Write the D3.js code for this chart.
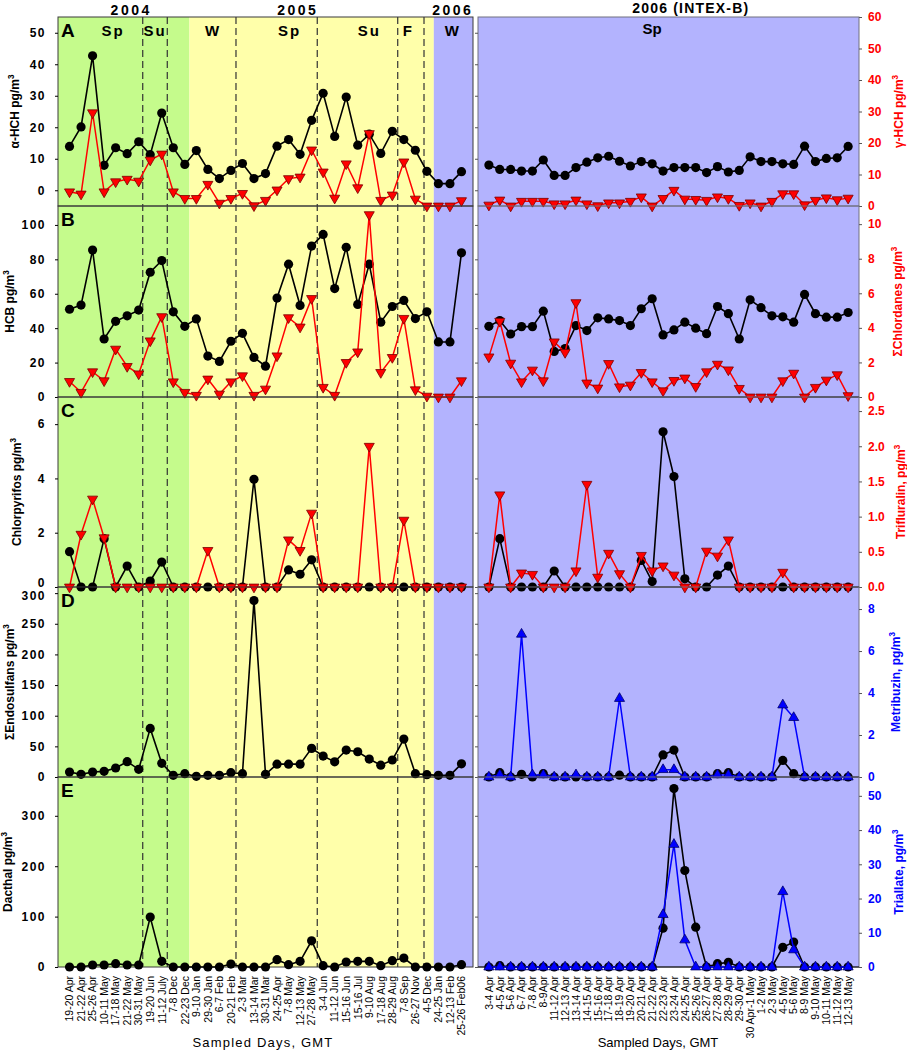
<!DOCTYPE html>
<html><head><meta charset="utf-8">
<script src="https://cdn.jsdelivr.net/npm/d3@7"></script>
<style>body{margin:0;background:#fff}svg{display:block}text{font-family:"Liberation Sans",Arial,sans-serif}</style>
</head><body><svg id="c" width="907" height="1050"></svg>
<script>
// ---------- categories ----------
const leftCats = ["19-20 Apr","21-22 Apr","25-26 Apr","10-11 May","17-18 May","21-22 May","30-31 May","19-20 Jun","11-12 July","7-8 Dec","22-23 Dec","9-10 Jan","29-30 Jan","6-7 Feb","20-21 Feb","2-3 Mar","13-14 Mar","30-31 Mar","24-25 Apr","7-8 May","12-13 May","27-28 May","3-4 Jun","11-12 Jun","15-16 Jun","15-16 Jul","9-10 Aug","17-18 Aug","28-29 Aug","7-8 Sep","26-27 Nov","4-5 Dec","24-25 Jan","12-13 Feb","25-26 Feb06"];
const rightCats = ["3-4 Apr","4-5 Apr","5-6 Apr","6-7 Apr","7-8 Apr","8-9Apr","11-12 Apr","12-13 Apr","13-14 Apr","14-15 Apr","15-16 Apr","17-18 Apr","18-19 Apr","19-20 Apr","20-21 Apr","21-22 Apr","22-23 Apr","23-24 Apr","24-25 Apr","25-26 Apr","26-27 Apr","27-28 Apr","28-29 Apr","29-30 Apr","30 Apr-1 May","1-2 May","2-3 May","4-5 May","5-6 May","8-9 May","9-10 May","10-11 May","11-12 May","12-13 May"];

// ---------- series values ----------
const aHCH_L = [13.9,20.1,42.7,7.9,13.5,11.6,15.4,11.3,24.5,13.5,8.2,12.6,6.6,3.7,6.3,8.5,3.7,5.3,14.0,16.1,11.4,22.2,30.8,17.1,29.6,14.3,17.8,11.7,18.7,16.1,12.7,6.0,2.1,2.1,5.9];
const aHCH_R = [8.0,6.6,6.6,6.1,6.1,9.6,4.7,4.7,7.2,8.9,10.3,10.8,9.2,7.7,9.1,8.4,6.1,7.2,7.2,7.2,5.6,7.5,5.8,6.3,10.6,9.1,9.1,8.4,8.2,14.0,9.1,10.1,10.3,13.9];
const gHCH_L = [4.5,3.8,29.6,4.5,7.7,8.5,7.9,14.6,16.5,4.5,2.4,2.4,6.9,0.9,2.4,4.0,0.1,1.8,5.1,8.7,9.2,17.8,10.8,2.5,13.4,5.8,23.0,1.8,3.5,14.0,2.2,0,0,0,1.7];
const gHCH_R = [0.3,1.9,0,1.5,1.5,1.5,0.7,0.7,1.9,0.7,0.1,1.0,1.0,1.5,2.9,0,2.4,5.0,2.2,2.1,1.8,2.9,2.4,0.2,1.0,0,1.5,3.9,3.9,0.4,1.8,2.6,2.0,2.5];

const HCB_L = [51.0,53.4,85.4,33.7,44.0,47.2,50.5,72.5,79.3,49.5,41.1,45.4,23.8,20.7,32.4,37.0,23.0,17.9,57.5,77.2,53.2,87.7,94.5,63.0,87.0,53.8,77.2,43.5,52.6,56.1,45.6,49.5,32.0,32.0,83.8];
const HCB_R = [41.1,44.4,36.6,40.9,40.9,49.9,26.5,28.2,41.5,38.6,46.0,45.4,44.4,41.5,51.3,57.1,36.1,39.0,43.5,40.0,36.8,52.6,48.4,33.7,56.5,51.9,47.2,46.6,43.5,59.6,48.4,46.4,46.4,49.1];
const chlordanes_L = [0.9,0.27,1.46,0.94,2.77,1.77,1.34,3.25,4.65,0.88,0.27,0.1,1.04,0.17,0.88,1.23,0.1,0.46,2.38,4.59,4.05,5.7,0.56,0.1,2.0,2.61,10.55,1.42,2.29,4.55,0.42,0.05,0,0,0.94];
const chlordanes_R = [2.32,4.38,1.96,0.88,1.56,0.94,3.19,2.58,5.46,0.81,0.52,1.94,0.59,0.69,1.42,0.88,0.36,0.96,1.1,0.61,1.46,1.9,1.57,0.5,0,0,0,0.94,1.38,0,0.56,0.98,1.29,0.08];

const chlorpyrifos_L = [1.3,0,0,1.78,0,0.77,0,0.22,0.92,0,0,0,0,0,0,0,3.97,0,0,0.63,0.47,1.0,0,0,0,0,0,0,0,0,0,0,0,0,0];
const chlorpyrifos_R = [0,1.78,0,0,0,0,0.59,0,0,0,0,0,0,0,0.98,0.2,5.72,4.07,0.3,0,0,0.44,0.77,0,0,0,0,0,0,0,0,0,0,0];
const trifluralin_L = [0,0.75,1.25,0.70,0,0,0,0,0,0,0,0,0.52,0,0,0,0,0,0,0.67,0.52,1.05,0,0,0,0,2.0,0,0,0.95,0,0,0,0,0];
const trifluralin_R = [0,1.31,0,0.2,0.18,0,0,0,0.23,1.46,0.14,0.48,0.19,0,0.45,0.23,0.3,0.17,0,0,0.51,0.44,0.67,0,0,0,0,0.21,0,0,0,0,0,0];

const endosulfans_L = [8.1,4.3,8.1,9.2,14.7,25,12.5,79.3,22.3,2.7,5.4,1.1,2.7,2.7,7.1,5.4,288,4.3,21,21,21,46.7,34.2,24.7,44,41.2,29.3,19.3,27.7,61.9,5.4,3.8,2.7,2.7,21.5];
const endosulfans_R = [0,7,0,4.3,0,5.4,0,0,0,0,0,0,3,0,0,0,36,44,0,0,0,5.4,7,0,0,0,0,27,5.4,0,0,0,0,0];
const metribuzin_R = [0,0.1,0,6.8,0.1,0.1,0,0,0.1,0,0,0,3.74,0,0,0,0.35,0.35,0,0,0,0.1,0.1,0,0,0,0,3.43,2.83,0,0,0,0,0];

const dacthal_L = [0,0,4,4,6.6,4,4,99,11.2,0,0,0,0,0,5.9,0,0,0,14.5,4.6,11.2,52,2.6,0,9.9,11.2,11.2,2.6,12.5,17.8,0,0,0,0,4.6];
const dacthal_R = [0,2.6,0,0,0,0,0,0,0,0,0,0,0,0,0,0,77,354,191.5,79,0,6.6,9.2,0,0,0,0,39,49.5,0,0,0,0,0];
const triallate_R = [0,0,0,0,0,0,0,0,0,0,0,0,0,0,0,0,15.3,35.8,7.9,0,0,0,0,0,0,0,0,22,5,0,0,0,0,0];

// ---------- tick labels ----------
const ticksA_L = [0,10,20,30,40,50], ticksA_R = [0,10,20,30,40,50,60];
const ticksB_L = [0,20,40,60,80,100], ticksB_R = [0,2,4,6,8,10];
const ticksC_L = [0,2,4,6], ticksC_R = [0,0.5,1,1.5,2,2.5];
const ticksD_L = [0,50,100,150,200,250,300], ticksD_R = [0,2,4,6,8];
const ticksE_L = [0,100,200,300], ticksE_R = [0,10,20,30,40,50];

// ---------- season / year annotations ----------
const seasonNames = ["Sp","Su","W","Sp","Su","F","W"];
const yearNames = ["2004","2005","2006"];
const rightYear = "2006 (INTEX-B)", rightSeason = "Sp";

// ---------- layout (positions in category units, not data) ----------
const seasonPos = [3.77,7.42,12.45,19.1,26.0,29.4,33.25];
const yearPos = [5.35,19.8,33.25];
const breakPos = [6.35,8.48,14.44,21.49,28.47,30.75];
const bgBands = [{a:-1,b:10.4,c:"#c5fb8c"},{a:10.4,b:31.6,c:"#ffffaa"},{a:31.6,b:35,c:"#b3b3fe"}];

const svg = d3.select("#c");
const LX = [58,473], RX = [478,859];
const TOP = 17, BOT = 967;
const xL = d3.scalePoint().domain(d3.range(leftCats.length)).range(LX).padding(1);
const xR = d3.scalePoint().domain(d3.range(rightCats.length)).range(RX).padding(1);
const fxL = v => xL(0) + v*xL.step();
const fxR = v => xR(0) + v*xR.step();
const clampL = v => Math.max(LX[0], Math.min(LX[1], v));

// backgrounds
bgBands.forEach(b => svg.append("rect").attr("x", clampL(fxL(b.a+0.5)-xL.step()*0.5)).attr("y", TOP)
  .attr("width", clampL(fxL(b.b)) - clampL(fxL(b.a+0.5)-xL.step()*0.5)).attr("height", BOT-TOP).attr("fill", b.c));
svg.append("rect").attr("x",RX[0]).attr("y",TOP).attr("width",RX[1]-RX[0]).attr("height",BOT-TOP).attr("fill","#b3b3fe");

// season dividers
breakPos.forEach(v => svg.append("line").attr("x1",fxL(v)).attr("x2",fxL(v)).attr("y1",TOP).attr("y2",BOT)
  .attr("stroke","#333").attr("stroke-width",1.2).attr("stroke-dasharray","7,4"));

const panels = [
 {id:"A", top:17, bottom:206, lDom:[-5,55], rDom:[0,60], lT:ticksA_L, rT:ticksA_R, rf:d3.format("d"),
  lTitle:"α-HCH pg/m", lTx:19, rTitle:"γ-HCH pg/m", rTx:903, rc:"#ff0000",
  bl:aHCH_L, br:aHCH_R, sl:gHCH_L, sr:gHCH_R, sym:"down", nudge:{}},
 {id:"B", top:206, bottom:397, lDom:[0,111], rDom:[0,11.05], lT:ticksB_L, rT:ticksB_R, rf:d3.format("d"),
  lTitle:"HCB pg/m", lTx:14, rTitle:"ΣChlordanes pg/m", rTx:902, rc:"#ff0000",
  bl:HCB_L, br:HCB_R, sl:chlordanes_L, sr:chlordanes_R, sym:"down", nudge:{}},
 {id:"C", top:397, bottom:587, lDom:[0,7], rDom:[0,2.7], lT:ticksC_L, rT:ticksC_R, rf:d3.format(".1f"),
  lTitle:"Chlorpyrifos pg/m", lTx:21, rTitle:"Trifluralin, pg/m", rTx:905, rc:"#ff0000",
  bl:chlorpyrifos_L, br:chlorpyrifos_R, sl:trifluralin_L, sr:trifluralin_R, sym:"down", nudge:{0:-4}},
 {id:"D", top:587, bottom:777, lDom:[0,310], rDom:[0,9.05], lT:ticksD_L, rT:ticksD_R, rf:d3.format("d"),
  lTitle:"ΣEndosulfans pg/m", lTx:14, rTitle:"Metribuzin, pg/m", rTx:900, rc:"#0000ff",
  bl:endosulfans_L, br:endosulfans_R, sl:null, sr:metribuzin_R, sym:"up", nudge:{300:3}},
 {id:"E", top:777, bottom:967, lDom:[0,377], rDom:[0,55.5], lT:ticksE_L, rT:ticksE_R, rf:d3.format("d"),
  lTitle:"Dacthal pg/m", lTx:12, rTitle:"Triallate, pg/m", rTx:903, rc:"#0000ff",
  bl:dacthal_L, br:dacthal_R, sl:null, sr:triallate_R, sym:"up", nudge:{}}
];

function vtitle(x, yc, txt, color, size){
  const t = svg.append("text").attr("transform",`translate(${x},${yc}) rotate(-90)`)
    .attr("text-anchor","middle").attr("fill",color)
    .style("font-weight","bold").style("font-size",size+"px");
  t.append("tspan").text(txt);
  t.append("tspan").attr("dy",-5).style("font-size",(size*0.68)+"px").text("3");
}

const tri = d3.symbol().type(d3.symbolTriangle).size(44);

panels.forEach(p => {
  const yL = d3.scaleLinear().domain(p.lDom).range([p.bottom,p.top]);
  const yR = d3.scaleLinear().domain(p.rDom).range([p.bottom,p.top]);
  // borders
  svg.append("rect").attr("x",LX[0]).attr("y",p.top).attr("width",LX[1]-LX[0]).attr("height",p.bottom-p.top)
    .attr("fill","none").attr("stroke","#3a3a3a").attr("stroke-width",1);
  svg.append("rect").attr("x",RX[0]).attr("y",p.top).attr("width",RX[1]-RX[0]).attr("height",p.bottom-p.top)
    .attr("fill","none").attr("stroke","#707080").attr("stroke-width",1);
  if (p.lDom[0] === 0) {
    svg.append("line").attr("x1",RX[0]).attr("x2",RX[1]).attr("y1",yL(0)).attr("y2",yL(0)).attr("stroke","#000").attr("stroke-width",1);
  }
  // axes
  const ga = svg.append("g").attr("transform",`translate(${LX[0]},0)`)
    .call(d3.axisLeft(yL).tickValues(p.lT).tickSize(3).tickPadding(9).tickFormat(d3.format("d")));
  ga.select(".domain").remove();
  ga.selectAll("text").style("font-size","12px").style("font-weight","bold").style("letter-spacing","1.5px").attr("fill","#000")
    .attr("transform", d => `translate(0,${p.nudge[d] || 0})`);
  const gr0 = svg.append("g").attr("transform",`translate(${RX[0]},0)`)
    .call(d3.axisLeft(yL).tickValues(p.lT).tickSize(3).tickFormat(""));
  gr0.select(".domain").remove(); gr0.selectAll("line").attr("stroke","#555");
  const gr = svg.append("g").attr("transform",`translate(${RX[1]},0)`)
    .call(d3.axisRight(yR).tickValues(p.rT).tickSize(3).tickPadding(6).tickFormat(p.rf));
  gr.select(".domain").remove();
  gr.selectAll("line").attr("stroke","#555");
  gr.selectAll("text").style("font-size","12px").style("font-weight","bold").attr("fill",p.rc);

  // series
  const lineL = (sc) => d3.line().x((d,i)=>xL(i)).y(d=>sc(d));
  const lineR = (sc) => d3.line().x((d,i)=>xR(i)).y(d=>sc(d));
  const drawBlack = (vals, xs, ls) => {
    svg.append("path").datum(vals).attr("d", ls(yL)).attr("fill","none").attr("stroke","#000").attr("stroke-width",1.6);
    svg.append("g").selectAll("circle").data(vals).join("circle")
      .attr("cx",(d,i)=>xs(i)).attr("cy",d=>yL(d)).attr("r",4.6).attr("fill","#000");
  };
  const drawSec = (vals, xs, ls) => {
    svg.append("path").datum(vals).attr("d", ls(yR)).attr("fill","none").attr("stroke",p.rc).attr("stroke-width",1.5);
    svg.append("g").selectAll("path").data(vals).join("path").attr("d",tri)
      .attr("transform",(d,i)=>`translate(${xs(i)},${yR(d)}) rotate(${p.sym==="down"?180:0})`)
      .attr("fill",p.rc).attr("stroke",p.sym==="down"?"#7a0000":"#00006a").attr("stroke-width",0.8);
  };
  drawBlack(p.bl, xL, lineL);
  drawBlack(p.br, xR, lineR);
  if (p.sl) drawSec(p.sl, xL, lineL);
  drawSec(p.sr, xR, lineR);

  // titles
  const yc = (p.top+p.bottom)/2;
  vtitle(p.lTx, yc, p.lTitle, "#000", 12);
  vtitle(p.rTx, yc, p.rTitle, p.rc, 12);
  svg.append("text").attr("x",61).attr("y",p.top+20).text(p.id)
    .style("font-size","19px").style("font-weight","bold");
});

// season labels
seasonNames.forEach((s,i) => svg.append("text").attr("x",fxL(seasonPos[i])).attr("y",36).attr("text-anchor","middle")
  .style("font-size","15px").style("font-weight","bold").style("letter-spacing","2px").text(s));
svg.append("text").attr("x",fxR(15)).attr("y",34).attr("text-anchor","middle")
  .style("font-size","15px").style("font-weight","bold").text(rightSeason);
yearNames.forEach((s,i) => svg.append("text").attr("x",fxL(yearPos[i])).attr("y",15).attr("text-anchor","middle")
  .style("font-size","14px").style("font-weight","bold").style("letter-spacing","2.5px").text(s));
svg.append("text").attr("x",fxR(18.55)).attr("y",13).attr("text-anchor","middle")
  .style("font-size","14px").style("font-weight","bold").style("letter-spacing","1.2px").text(rightYear);

// x labels
const xlab = (cats, xs) => svg.append("g").selectAll("text").data(cats).join("text")
  .attr("transform",(d,i)=>`translate(${xs(i)+3.8},${BOT+9}) rotate(-90)`).attr("text-anchor","end")
  .style("font-size","10.5px").text(d=>d);
xlab(leftCats, xL); xlab(rightCats, xR);
svg.append("text").attr("x",263).attr("y",1047).attr("text-anchor","middle").style("font-size","13px").style("letter-spacing","1.2px").text("Sampled Days, GMT");
svg.append("text").attr("x",658).attr("y",1047).attr("text-anchor","middle").style("font-size","13px").text("Sampled Days, GMT");
</script></body></html>
